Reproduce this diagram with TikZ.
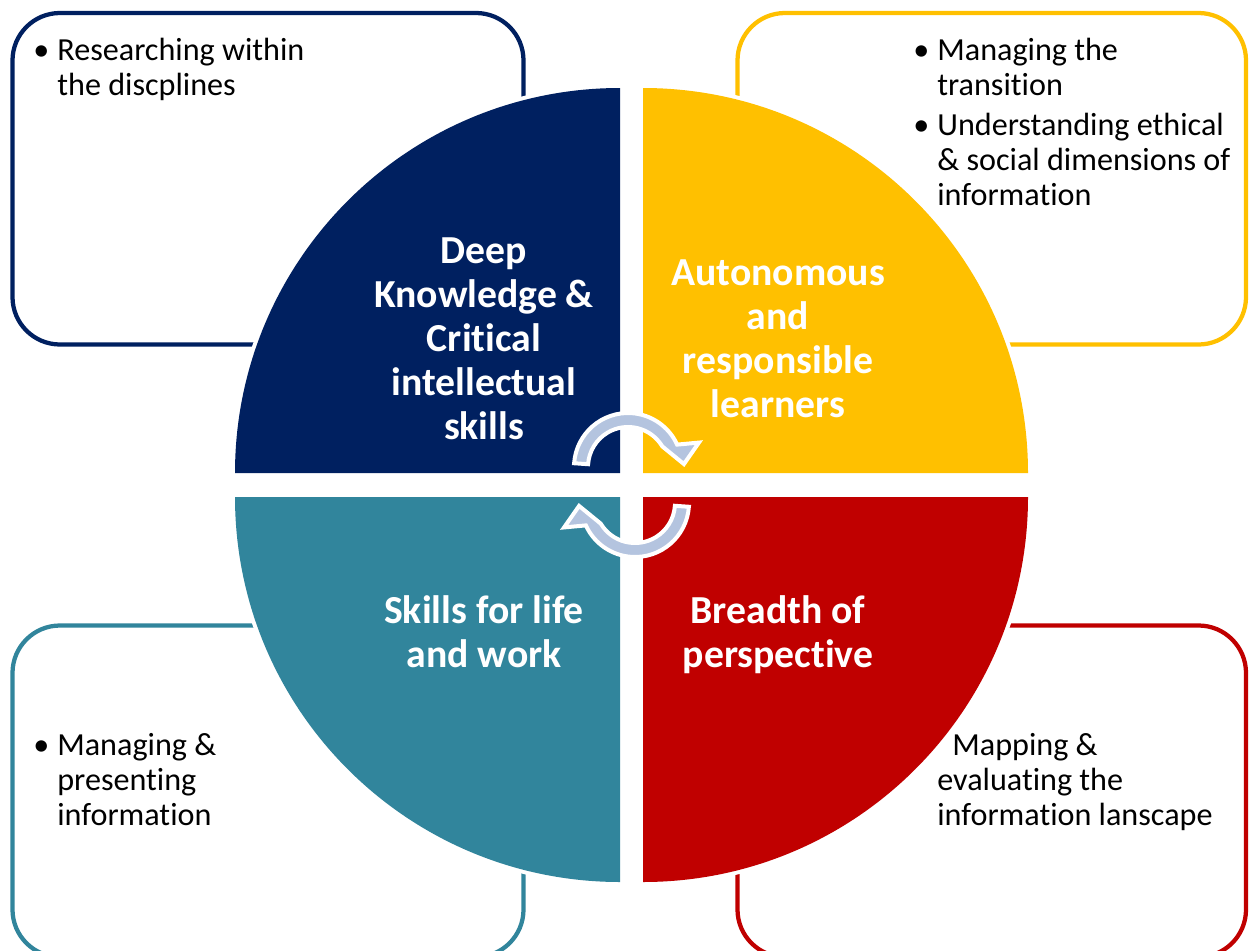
\documentclass[tikz,border=0pt]{standalone}
\usepackage{fontspec}
\setmainfont{Carlito}[Ligatures={NoCommon,NoContextual}, RawFeature={-liga;-clig;-calt;-dlig}]
\definecolor{navy}{HTML}{002060}
\definecolor{gold}{HTML}{FFC000}
\definecolor{teal2}{HTML}{31859C}
\definecolor{red2}{HTML}{C00000}
\definecolor{arrowfill}{HTML}{B4C4DF}
\newcommand\cycarrowpath{(-176:54) arc[start angle=-176,end angle=-24.5,radius=54] -- (-19:75) -- (-3:56) -- (-31:40) arc[start angle=-31,end angle=-176,radius=40] -- cycle}
\begin{document}
\begin{tikzpicture}[x=0.02cm,y=-0.02cm,
  infobox/.style={line width=0.085cm, rounded corners=0.95cm},
  quad/.style={preaction={draw=white, line width=0.16cm}},
  txt/.style={font=\fontsize{18.3}{21}\selectfont, inner sep=0pt, anchor=base west, text=black},
  lab/.style={font=\bfseries\fontsize{22.6}{26}\selectfont, inner sep=0pt, anchor=base, text=white},
  cyc/.style={fill=arrowfill, draw=white, line width=0.08cm, line join=miter}]
\useasboundingbox (0,0) rectangle (1250,950);
\clip (0,0) rectangle (1250,950);
\fill[white] (0,0) rectangle (1250,950);
% outer boxes
\draw[infobox, draw=navy] (12.5,13) rectangle (523.5,344.5);
\draw[infobox, draw=gold] (737.5,13) rectangle (1246,344.5);
\draw[infobox, draw=teal2] (12.5,625.5) rectangle (523.5,957);
\draw[infobox, draw=red2] (737.5,625.5) rectangle (1246,957);
% quadrants
\path[quad, fill=navy] (620,473) -- ++(180:385) arc[start angle=180,end angle=270,radius=385] -- cycle;
\path[quad, fill=gold] (643,473) -- ++(270:385) arc[start angle=270,end angle=360,radius=385] -- cycle;
\path[quad, fill=teal2] (620,497) -- ++(90:385) arc[start angle=90,end angle=180,radius=385] -- cycle;
\path[quad, fill=red2] (643,497) -- ++(0:385) arc[start angle=0,end angle=90,radius=385] -- cycle;
% cycle arrows
\begin{scope}[shift={(628,467)}]
\path[cyc] \cycarrowpath;
\end{scope}
\begin{scope}[shift={(635,503)}, rotate=180]
\path[cyc] \cycarrowpath;
\end{scope}
% quadrant labels
\foreach \t [count=\i] in {Deep, Knowledge \&, Critical, intellectual, skills}
  \node[lab] (dk\i) at (484,{219+44*\i}) {\t};
\foreach \t [count=\i] in {Autonomous, and, responsible, learners}
  \node[lab] (ar\i) at (778,{241+44*\i}) {\t};
\foreach \t [count=\i] in {Skills for life, and work}
  \node[lab] (sl\i) at (484,{579+44*\i}) {\t};
\foreach \t [count=\i] in {Breadth of, perspective}
  \node[lab] (bp\i) at (778,{579+44*\i}) {\t};
% box texts
\node[txt] (b1) at (33,60) {•};
\node[txt] (r1) at (57,60) {Researching within};
\node[txt] (r2) at (57,95) {the discplines};
\node[txt] (b2) at (913,60) {•};
\node[txt] (m1) at (937,60) {Managing the};
\node[txt] (m2) at (937,95) {transition};
\node[txt] (b3) at (913,135) {•};
\node[txt] (u1) at (937,135) {Understanding ethical};
\node[txt] (u2) at (937,170) {\& social dimensions of};
\node[txt] (u3) at (937,205) {information};
\node[txt] (b4) at (33,755) {•};
\node[txt] (p1) at (57,755) {Managing \&};
\node[txt] (p2) at (57,790) {presenting};
\node[txt] (p3) at (57,825) {information};
\node[txt] (e1) at (952,755) {Mapping \&};
\node[txt] (e2) at (937,790) {evaluating the};
\node[txt] (e3) at (937,825) {information lanscape};
\end{tikzpicture}
\end{document}
